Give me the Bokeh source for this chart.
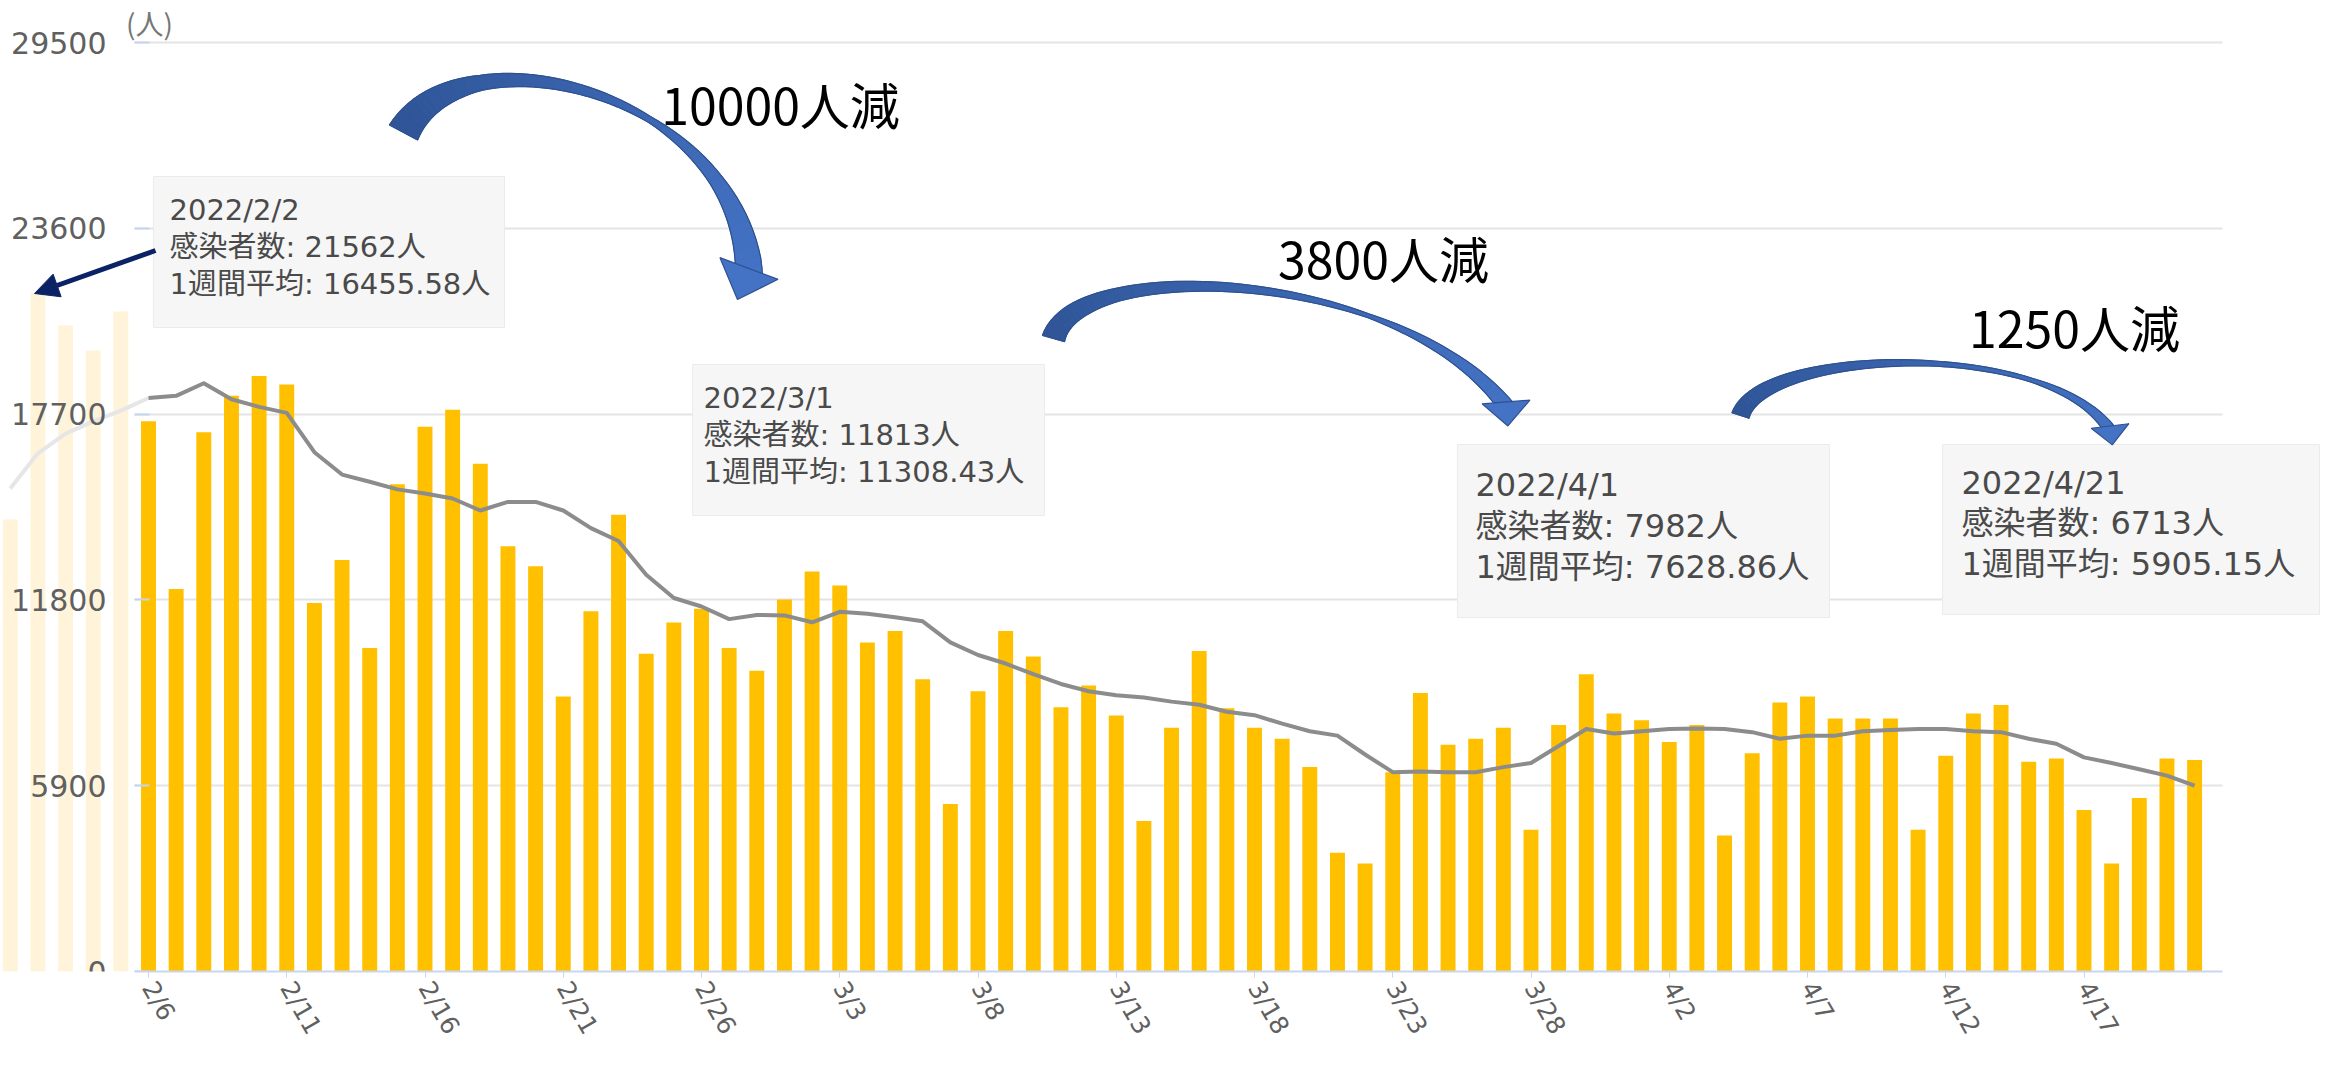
import numpy as np
import pandas as pd
from bokeh.plotting import figure
from bokeh.models import (Range1d, LinearAxis, FixedTicker, ColumnDataSource,
                          Arrow, NormalHead, Grid, Label)
from bokeh.core.properties import value
from bokeh.embed import file_html
from bokeh.resources import INLINE

# ---------------- data ----------------
DATES = [f"{d.month}/{d.day}" for d in pd.date_range("2022-02-01", "2022-04-21")]
N_GHOST = 5  # 2/1-2/5 are faded remnants of the scrolled screenshot

CASES = [14350, 21562, 20510, 19720, 20960,
         17470, 12150, 17120, 18280, 18910, 18640, 11700, 13070, 10270, 15470,
         17300, 17840, 16120, 13500, 12870, 8730, 11440, 14500, 10090, 11080,
         11520, 10270, 9550, 11813, 12700, 12260, 10450, 10810, 9280, 5320,
         8900, 10810, 10000, 8390, 9080, 8130, 4780, 7740, 10180, 8360,
         7740, 7390, 6490, 3770, 3430, 6330, 8840, 7200, 7390, 7740,
         4500, 7830, 9440, 8190, 7982, 7290, 7830, 4320, 6930, 8540,
         8730, 8030, 8030, 8030, 4500, 6850, 8190, 8460, 6660, 6760,
         5130, 3430, 5510, 6760, 6713]

AVG = [15340, 16455.58, 17080, 17470, 17810,
       18210, 18280, 18680, 18170, 17930, 17740, 16490, 15780, 15550, 15310,
       15180, 15020, 14640, 14910, 14910, 14640, 14080, 13670, 12600, 11860,
       11590, 11190, 11320, 11308.43, 11090, 11420, 11360, 11250, 11120, 10450,
       10050, 9780, 9440, 9130, 8900, 8770, 8700, 8570, 8470, 8250,
       8140, 7870, 7630, 7490, 6890, 6330, 6350, 6330, 6330, 6490,
       6620, 7160, 7700, 7560, 7628.86, 7700, 7720, 7700, 7600, 7390,
       7490, 7490, 7630, 7670, 7700, 7700, 7630, 7600, 7390, 7230,
       6800, 6620, 6420, 6220, 5905.15]

TICK_LABELS = ["2/6", "2/11", "2/16", "2/21", "2/26", "3/3", "3/8", "3/13",
               "3/18", "3/23", "3/28", "4/2", "4/7", "4/12", "4/17"]
GHOST_TICK = "2/1"
Y_TICKS = [0, 5900, 11800, 17700, 23600, 29500]

TT_DATES = ["2022/2/2", "2022/3/1", "2022/4/1", "2022/4/21"]
TT_CASES = [21562, 11813, 7982, 6713]
TT_AVG = ["16455.58", "11308.43", "7628.86", "5905.15"]
DROP_LABELS = ["10000人減", "3800人減", "1250人減"]

# ---------------- layout constants (reference pixels) ----------------
X0, DX = 17.75, 27.65          # pixel of day index 0, pixels per day
FL, FR, FT, FB = 8, 2333, 8, 979
PX_PER_UNIT = 185.8 / 5900
AX_LEFT_PX, AX_RIGHT_PX = 142, 2230

def px2idx(px):
    return (px - X0) / DX

idx = np.arange(len(DATES))
bar_colors = ["#FFF4D9"] * N_GHOST + ["#FFC000"] * (len(DATES) - N_GHOST)
src = ColumnDataSource(dict(x=idx, cases=CASES, avg=AVG, color=bar_colors))

p = figure(frame_width=FR - FL, frame_height=FB - FT,
           x_range=Range1d(px2idx(FL), px2idx(FR)),
           y_range=Range1d(0, (FB - FT) / PX_PER_UNIT),
           x_axis_location="below", y_axis_location=None,
           toolbar_location=None, output_backend="svg",
           min_border_left=0, min_border_right=0, min_border_top=0,
           min_border_bottom=0,
           background_fill_color="white", border_fill_color="white")
p.outline_line_color = None
for g in list(p.xgrid) + list(p.ygrid):
    g.visible = False
p.extra_x_ranges = {"px": Range1d(FL, FR)}
p.extra_y_ranges = {"px": Range1d(FB, FT)}

grid = Grid(dimension=1, ticker=FixedTicker(ticks=Y_TICKS),
            grid_line_color="#E4E4E4", grid_line_width=2,
            cross_bounds=(px2idx(AX_LEFT_PX), px2idx(AX_RIGHT_PX)))
p.add_layout(grid)

yaxis = LinearAxis(ticker=FixedTicker(ticks=Y_TICKS),
                   fixed_location=px2idx(AX_LEFT_PX),
                   axis_line_color=None,
                   major_tick_in=15, major_tick_out=0,
                   major_tick_line_color="#C6D4EF", major_tick_line_width=2,
                   minor_tick_line_color=None,
                   major_label_standoff=28,
                   major_label_text_font="DejaVu Sans",
                   major_label_text_font_size="30px",
                   major_label_text_color="#606060")
p.add_layout(yaxis, "left")

tick_pos = [DATES.index(t) for t in TICK_LABELS]
xa = p.xaxis[0]
xa.ticker = FixedTicker(ticks=tick_pos)
xa.major_label_overrides = {i: DATES[i] for i in tick_pos}
xa.bounds = (px2idx(AX_LEFT_PX), px2idx(AX_RIGHT_PX))
xa.axis_line_color = "#CBD6EE"
xa.axis_line_width = 2
xa.major_tick_in = 0
xa.major_tick_out = 6
xa.major_tick_line_color = "#CBD6EE"
xa.minor_tick_line_color = None
xa.major_label_standoff = 6
xa.major_label_orientation = -np.pi / 3
xa.major_label_text_font = "DejaVu Sans"
xa.major_label_text_font_size = "25px"
xa.major_label_text_color = "#606060"

# faded 2/1 label at the cut-off left edge
gi = DATES.index(GHOST_TICK)
p.add_layout(Label(x=gi, y=0, text=GHOST_TICK, x_offset=6, y_offset=-16,
                   angle=-np.pi / 3, text_font="DejaVu Sans", text_font_size="25px",
                   text_color="#E2E2E2", text_align="left", text_baseline="middle"))

# bars and 7-day average
p.vbar(x="x", top="cases", width=0.54, fill_color="color", line_color=None, source=src)
p.line(idx[:N_GHOST + 1], AVG[:N_GHOST + 1], line_color="#E6E6E6", line_width=4,
       line_join="round")
p.line(idx[N_GHOST:], AVG[N_GHOST:], line_color="#8C8C8C", line_width=4,
       line_join="round")

# unit label
p.add_layout(Label(x=157, y=30, text="(人)", x_range_name="px", y_range_name="px",
                   text_font="Noto Sans CJK JP", text_font_size="28px",
                   text_color="#777777", text_align="center", text_baseline="middle"))

# tooltip boxes (pixel layout)
TT_BOX = [(161, 184, 512, 335), (700, 372, 1052, 523),
          (1465, 452, 1837, 625), (1950, 452, 2327, 622)]
TT_TEXT_X = [177, 711, 1483, 1969]
TT_LINE_Y = [(217, 254, 291), (405, 442, 479), (492, 533, 574), (490, 530, 571)]
TT_SIZE = ["29px", "29px", "32px", "32px"]

p.quad(left=[b[0] for b in TT_BOX], right=[b[2] for b in TT_BOX],
       top=[b[1] for b in TT_BOX], bottom=[b[3] for b in TT_BOX],
       x_range_name="px", y_range_name="px",
       fill_color="#F6F6F6", line_color="#EBEBEB", line_width=1)

tx, ty, tt, ts = [], [], [], []
for k in range(len(TT_DATES)):
    lines = [TT_DATES[k], f"感染者数: {TT_CASES[k]}人", f"1週間平均: {TT_AVG[k]}人"]
    for j, s in enumerate(lines):
        tx.append(TT_TEXT_X[k]); ty.append(TT_LINE_Y[k][j]); tt.append(s); ts.append(TT_SIZE[k])
p.text(x="x", y="y", text="text", text_font_size="size",
       source=ColumnDataSource(dict(x=tx, y=ty, text=tt, size=ts)),
       x_range_name="px", y_range_name="px",
       text_font=value("DejaVu Sans, Noto Sans CJK JP"),
       text_color="#4A4A4A", text_align="left", text_baseline="middle")

# pointer arrow from first tooltip to the 2/2 bar
NAVY = "#0B2265"
p.add_layout(Arrow(end=NormalHead(size=24, fill_color=NAVY, line_color=NAVY),
                   x_start=163, y_start=258, x_end=42, y_end=301,
                   x_range_name="px", y_range_name="px",
                   line_color=NAVY, line_width=5))

# curved block arrows
def bez(P, t):
    P = np.asarray(P, float); t = t[:, None]
    return (1 - t) ** 3 * P[0] + 3 * (1 - t) ** 2 * t * P[1] + 3 * (1 - t) * t ** 2 * P[2] + t ** 3 * P[3]

def bez_d(P, t):
    P = np.asarray(P, float); t = t[:, None]
    return 3 * (1 - t) ** 2 * (P[1] - P[0]) + 6 * (1 - t) * t * (P[2] - P[1]) + 3 * t ** 2 * (P[3] - P[2])

ARROWS = [
    dict(P=[(411, 140), (470, 30), (750, 100), (757, 285)],
         w=[(0, 32), (0.25, 15), (0.5, 9), (0.62, 6), (0.8, 14), (0.97, 26), (1, 26)],
         base=(756.5, 276), d=(-0.35, 0.94), hw=31, L=33),
    dict(P=[(1061, 346), (1085, 262), (1410, 275), (1516, 417)],
         w=[(0, 23), (0.25, 13), (0.5, 8), (0.7, 4), (0.85, 9), (1, 16)],
         base=(1513.5, 409.5), d=(0.08, 1.0), hw=24, L=24),
    dict(P=[(1748, 423), (1770, 355), (2060, 345), (2119, 440)],
         w=[(0, 18), (0.3, 10), (0.55, 5), (0.75, 4), (0.9, 8), (1, 12)],
         base=(2117.5, 433.5), d=(0.12, 1.0), hw=19, L=19),
]
C_DARK = np.array([47, 85, 151]); C_LIGHT = np.array([68, 114, 196])
NSEG = 60
for a in ARROWS:
    t = np.linspace(0, 1, NSEG + 1)
    C = bez(a["P"], t)
    T = bez_d(a["P"], t)
    T = T / np.linalg.norm(T, axis=1)[:, None]
    n = np.stack([-T[:, 1], T[:, 0]], axis=1)
    wt, wv = zip(*a["w"])
    w = np.interp(t, wt, wv)[:, None]
    Lp = C + n * w / 2
    Rp = C - n * w / 2
    xs, ys, cols = [], [], []
    for i in range(NSEG):
        xs.append([Lp[i, 0], Lp[i + 1, 0], Rp[i + 1, 0], Rp[i, 0]])
        ys.append([Lp[i, 1], Lp[i + 1, 1], Rp[i + 1, 1], Rp[i, 1]])
        f = i / (NSEG - 1)
        c = (C_DARK * (1 - f) + C_LIGHT * f).astype(int)
        cols.append("#%02x%02x%02x" % tuple(c))
    p.patches(xs, ys, fill_color=cols, line_color=cols, line_width=1,
              x_range_name="px", y_range_name="px")
    p.patch(list(Lp[:, 0]) + list(Rp[::-1, 0]), list(Lp[:, 1]) + list(Rp[::-1, 1]),
            fill_color=None, line_color="#2F528F", line_width=1.2,
            x_range_name="px", y_range_name="px")
    d = np.array(a["d"], float); d /= np.linalg.norm(d)
    m = np.array([-d[1], d[0]])
    B = np.array(a["base"], float)
    b1 = B + m * a["hw"]; b2 = B - m * a["hw"]; tip = B + d * a["L"]
    p.patch([b1[0], tip[0], b2[0]], [b1[1], tip[1], b2[1]],
            fill_color="#4472C4", line_color="#2F528F", line_width=1.2,
            x_range_name="px", y_range_name="px")

# reduction labels
DROP_POS = [(788, 110), (1391, 264), (2082, 333)]
p.text(x=[q[0] for q in DROP_POS], y=[q[1] for q in DROP_POS], text=DROP_LABELS,
       x_range_name="px", y_range_name="px",
       text_font=value("Noto Sans CJK JP"), text_font_size="50px",
       text_color="#000000", text_align="center", text_baseline="middle")

open("out.html", "w").write(file_html(p, INLINE))
